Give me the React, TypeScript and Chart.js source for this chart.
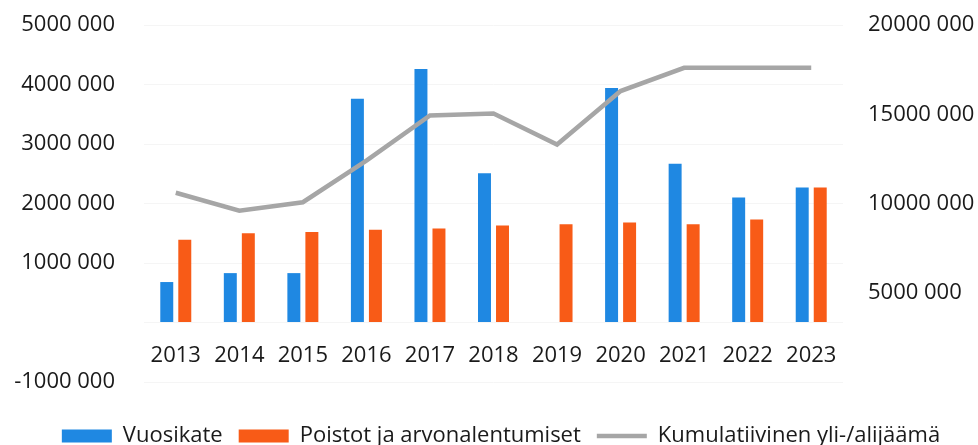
import React, { useEffect, useRef } from "react";
import { Chart, registerables } from "chart.js";

Chart.register(...registerables);

const years = ["2013", "2014", "2015", "2016", "2017", "2018", "2019", "2020", "2021", "2022", "2023"];
const vuosikate = [680000, 830000, 830000, 3760000, 4260000, 2510000, null, 3940000, 2670000, 2100000, 2270000];
const poistot = [1390000, 1500000, 1520000, 1560000, 1580000, 1630000, 1650000, 1680000, 1650000, 1730000, 2270000];
const kumulatiivinen = [10600000, 9600000, 10070000, 12400000, 14930000, 15040000, 13300000, 16300000, 17600000, 17600000, 17600000];
const seriesNames = ["Vuosikate", "Poistot ja arvonalentumiset", "Kumulatiivinen yli-/alijäämä"];

const fmt = (v: number) => (v === 0 ? "" : `${v / 1000} 000`);

const legendShift = {
  id: "legendShift",
  afterLayout(chart: any) {
    const l = chart.legend;
    if (l) {
      l.left += 12;
      l.right += 12;
    }
  },
};

export default function App() {
  const ref = useRef<HTMLCanvasElement>(null);
  useEffect(() => {
    if (!ref.current) return;
    const font = { family: "'Open Sans', sans-serif", size: 22 };
    const chart = new Chart(ref.current, {
      type: "bar",
      data: {
        labels: years,
        datasets: [
          {
            type: "bar",
            label: seriesNames[0],
            data: vuosikate,
            backgroundColor: "#1f88e2",
            yAxisID: "y",
            order: 1,
            pointStyle: "rect",
            barPercentage: 0.72,
            categoryPercentage: 0.567,
          },
          {
            type: "bar",
            label: seriesNames[1],
            data: poistot,
            backgroundColor: "#f85b17",
            yAxisID: "y",
            order: 1,
            pointStyle: "rect",
            barPercentage: 0.72,
            categoryPercentage: 0.567,
          },
          {
            type: "line",
            label: seriesNames[2],
            data: kumulatiivinen,
            borderColor: "#a6a6a6",
            backgroundColor: "#a6a6a6",
            borderWidth: 4.5,
            pointRadius: 0,
            pointStyle: "line",
            tension: 0,
            yAxisID: "y1",
            order: 0,
          },
        ],
      },
      plugins: [legendShift],
      options: {
        responsive: false,
        animation: false,
        layout: { padding: { top: 25, bottom: -12, left: 0, right: 0 } },
        plugins: {
          tooltip: { enabled: false },
          legend: {
            position: "bottom",
            title: { display: true, text: " ", font: { size: 10 }, padding: { top: 9, bottom: 6 } },
            labels: {
              usePointStyle: true,
              pointStyleWidth: 50,
              boxHeight: 13,
              padding: 16,
              color: "#1a1a1a",
              font,
              sort: (a: any, b: any) => a.datasetIndex - b.datasetIndex,
            },
          },
        },
        scales: {
          x: {
            position: { y: 0 } as any,
            grid: { display: false, drawTicks: false },
            border: { display: false },
            ticks: { color: "#1a1a1a", font, padding: 20, maxRotation: 0 },
            afterFit: (s: any) => {
              s.height = 0;
            },
          },
          y: {
            position: "left",
            min: -1000000,
            max: 5000000,
            grid: { color: "#f5f5f5", drawTicks: true, tickLength: 29, tickColor: "transparent" },
            border: { display: false },
            ticks: { stepSize: 1000000, color: "#1a1a1a", font, padding: 0, callback: (v: any) => fmt(Number(v)) },
            afterFit: (s: any) => {
              s.width = 144;
            },
          },
          y1: {
            position: "right",
            min: 0,
            max: 20000000,
            grid: { color: "transparent", drawTicks: true, tickLength: 25, tickColor: "transparent", drawOnChartArea: false },
            border: { display: false },
            ticks: { stepSize: 5000000, color: "#1a1a1a", font, padding: 0, callback: (v: any) => fmt(Number(v)) },
            afterFit: (s: any) => {
              s.width = 135;
            },
          },
        },
      },
    });
    return () => chart.destroy();
  }, []);
  return (
    <div style={{ position: "absolute", left: 0, top: 0, width: 978, height: 445, background: "#fff" }}>
      <canvas ref={ref} width={978} height={445} style={{ display: "block" }} />
    </div>
  );
}
